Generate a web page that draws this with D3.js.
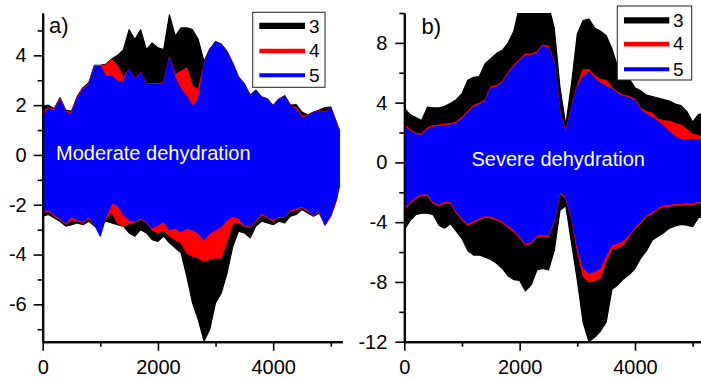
<!DOCTYPE html>
<html><head><meta charset="utf-8">
<script src="https://cdn.jsdelivr.net/npm/d3@7"></script>
<style>
html,body{margin:0;padding:0;background:#fff;}
svg{display:block;font-family:"Liberation Sans",Arial,sans-serif;}
</style></head>
<body>
<svg id="chart" width="701" height="379"></svg>
<script>
// ---------- data ----------
const seriesNames = ["3", "4", "5"];
const seriesColors = ["#000000", "#ff0000", "#0000ff"];
const xTickLabels = [0, 2000, 4000];
const yTickLabelsA = [-6, -4, -2, 0, 2, 4];
const yTickLabelsB = [-12, -8, -4, 0, 4, 8];
const panelTitles = ["a)", "b)"];
const panelNotes = ["Moderate dehydration", "Severe dehydration"];

// sample positions (x) of the envelope readings
const xA = [0,100,200,300,400,500,600,700,800,900,1000,1100,1200,1300,1400,1500,1600,1700,1800,1900,2000,2100,2200,2300,2400,2500,2600,2700,2800,2900,3000,3100,3200,3300,3400,3500,3600,3700,3800,3900,4000,4100,4200,4300,4400,4500,4600,4700,4800,4900,5000,5100,5150];
// Panel a: upper / lower envelopes
const a3Upper = [1.95,2.0,1.85,2.3,1.8,1.75,2.35,2.7,2.9,3.6,3.6,3.65,3.85,4.0,4.22,5.03,4.63,5.03,4.23,4.5,4.3,4.23,5.63,4.77,5.1,5.1,5.03,4.63,3.75,4.25,4.55,4.45,4.15,3.68,3.12,2.86,2.4,2.6,2.33,2.25,1.98,2.25,2.38,2.0,2.02,1.72,1.6,1.72,1.8,1.9,1.92,1.3,1.0];
const a4Upper = [1.7,1.9,1.8,2.25,1.75,1.7,2.3,2.65,2.85,3.6,3.58,3.62,3.83,3.56,3.1,3.43,3.05,3.3,2.85,2.85,2.85,2.92,3.92,3.22,3.36,3.49,2.76,2.62,3.6,4.23,4.52,4.43,4.1,3.63,3.09,2.82,2.35,2.55,2.29,2.22,1.95,2.22,2.35,1.95,1.9,1.55,1.58,1.7,1.77,1.72,1.9,1.25,1.0];
const a5Upper = [1.55,1.85,1.75,2.2,1.7,1.65,2.25,2.6,2.8,3.55,3.55,3.15,3.15,2.95,2.95,3.43,3.02,3.29,2.82,2.82,2.82,2.89,3.89,3.09,2.62,2.35,1.95,2.22,3.56,4.23,4.52,4.43,4.1,3.63,3.09,2.82,2.35,2.55,2.29,2.22,1.95,2.22,2.35,1.95,1.82,1.48,1.55,1.69,1.75,1.69,1.89,1.22,0.95];
const a3Lower = [-2.46,-2.39,-2.53,-2.66,-2.86,-2.8,-2.73,-2.8,-2.66,-2.86,-2.73,-2.66,-2.73,-2.8,-2.86,-3.13,-3.26,-3.0,-3.13,-3.4,-3.47,-3.26,-3.53,-3.73,-3.93,-4.87,-5.94,-6.61,-7.48,-7.0,-5.94,-5.54,-4.74,-3.67,-3.06,-3.13,-3.33,-2.86,-2.66,-2.73,-2.8,-2.66,-2.73,-2.46,-2.39,-2.19,-2.33,-2.46,-2.33,-2.8,-2.46,-1.79,-1.2];
const a4Lower = [-2.33,-2.25,-2.45,-2.58,-2.78,-2.6,-2.65,-2.72,-2.52,-2.83,-2.7,-2.55,-2.3,-2.73,-2.86,-2.75,-2.7,-2.58,-2.7,-3.0,-3.13,-3.0,-3.26,-3.4,-3.53,-3.93,-4.07,-4.13,-4.27,-4.2,-4.13,-4.13,-3.47,-2.73,-2.7,-2.85,-2.9,-2.65,-2.4,-2.5,-2.65,-2.5,-2.5,-2.25,-2.2,-2.1,-2.25,-2.42,-2.25,-2.82,-2.42,-1.75,-1.2];
const a5Lower = [-2.26,-2.19,-2.39,-2.53,-2.73,-2.46,-2.6,-2.66,-2.46,-2.8,-3.26,-2.46,-1.93,-2.0,-2.39,-2.6,-2.66,-2.53,-2.66,-2.93,-2.8,-2.66,-3.0,-2.93,-3.06,-2.93,-3.0,-3.13,-3.4,-3.13,-3.0,-2.86,-2.6,-2.46,-2.53,-2.8,-2.86,-2.6,-2.33,-2.46,-2.6,-2.46,-2.46,-2.19,-2.13,-2.06,-2.19,-2.39,-2.19,-2.8,-2.39,-1.72,-1.15];

const xB = [0,100,200,300,400,500,600,700,800,900,1000,1100,1200,1300,1400,1500,1600,1700,1800,1900,2000,2100,2200,2300,2400,2500,2600,2700,2800,2900,3000,3100,3200,3300,3400,3500,3600,3700,3800,3900,4000,4100,4200,4300,4400,4500,4600,4700,4800,4900,5000,5100,5200];
// Panel b: upper / lower envelopes
const b3Upper = [3.64,3.2,3.0,2.8,3.7,3.65,3.65,3.75,3.95,4.2,4.6,5.5,5.7,5.75,6.6,6.95,7.3,7.5,8.0,8.8,10.5,10.5,10.5,10.5,10.5,10.5,9.0,5.0,2.5,5.3,8.6,9.5,9.6,9.0,8.8,8.5,7.6,6.4,6.0,5.6,5.0,4.8,4.5,4.4,4.3,4.2,4.1,3.9,3.8,3.4,2.7,3.2,3.3];
const b4Upper = [2.5,2.2,1.95,1.9,2.3,2.45,2.5,2.55,2.6,2.7,3.0,3.4,3.8,3.95,4.2,5.05,5.15,5.4,6.0,6.5,6.87,7.25,7.25,7.4,7.85,7.75,6.7,3.4,2.05,3.7,5.1,6.2,6.2,5.8,5.55,5.5,5.0,4.7,4.5,4.4,4.2,3.6,3.4,3.3,2.9,2.8,2.75,2.6,2.5,2.2,1.9,1.8,1.6];
const b5Upper = [2.41,2.1,1.86,1.8,2.2,2.35,2.4,2.45,2.5,2.6,2.9,3.3,3.7,3.85,4.1,4.95,5.05,5.3,5.9,6.4,6.77,7.15,7.15,7.3,7.75,7.65,6.6,3.3,1.95,3.6,5.0,5.7,6.05,5.6,5.3,5.1,4.9,4.6,4.4,4.3,4.1,3.5,3.2,3.0,2.7,2.4,2.0,1.7,1.5,1.5,1.55,1.5,1.5];
const b3Lower = [-4.51,-3.9,-3.5,-3.4,-3.4,-3.5,-4.2,-4.4,-4.1,-4.6,-5.1,-5.9,-6.2,-6.2,-6.35,-6.5,-6.75,-7.1,-7.6,-7.85,-7.9,-8.6,-8.2,-7.2,-7.1,-7.2,-5.9,-3.2,-2.9,-5.4,-7.9,-10.7,-12.0,-11.7,-11.3,-10.7,-8.5,-8.2,-7.8,-7.5,-7.1,-6.4,-5.9,-5.2,-4.95,-4.7,-4.4,-4.25,-4.15,-4.2,-4.3,-3.7,-3.6];
const b4Lower = [-3.18,-2.72,-2.4,-2.22,-2.22,-2.72,-2.92,-2.72,-2.72,-3.37,-3.82,-4.18,-4.02,-3.82,-3.67,-3.72,-3.85,-4.02,-4.32,-4.62,-5.02,-5.52,-5.42,-4.97,-4.92,-4.97,-3.92,-2.02,-2.42,-3.72,-5.9,-7.6,-8.0,-7.9,-7.7,-6.6,-5.8,-5.7,-5.5,-4.92,-4.42,-4.07,-3.62,-3.42,-3.12,-2.97,-2.92,-2.87,-2.85,-2.82,-2.85,-2.72,-2.72];
const b5Lower = [-3.06,-2.6,-2.28,-2.1,-2.1,-2.6,-2.8,-2.6,-2.6,-3.25,-3.7,-4.06,-3.9,-3.7,-3.55,-3.6,-3.73,-3.9,-4.2,-4.5,-4.9,-5.4,-5.3,-4.85,-4.8,-4.85,-3.8,-1.9,-2.3,-3.6,-5.6,-7.0,-7.4,-7.3,-7.05,-6.2,-5.5,-5.4,-5.2,-4.8,-4.3,-3.95,-3.5,-3.3,-3.0,-2.85,-2.8,-2.75,-2.73,-2.7,-2.73,-2.6,-2.6];

// ---------- drawing ----------
const svg = d3.select("#chart");
const FONT = "Liberation Sans, Arial, sans-serif";

const panels = [
  {
    id: "a", xs: xA,
    upper: [a3Upper, a4Upper, a5Upper], lower: [a3Lower, a4Lower, a5Lower],
    left: 42.7, right: 342.3, top: 13, bottom: 341.7,
    yDomain: [-7.5, 5.7], yMajor: yTickLabelsA, yMinor: [-7, -5, -3, -1, 1, 3, 5],
    labelPad: 7, title: panelTitles[0], titleX: 49, titleY: 33,
    note: panelNotes[0], noteX: 56, noteY: 160,
    legend: {x0: 252.7, y0: 12.3, x1: 325, y1: 87.3, lx0: 259.3, lx1: 305, ly: [25.8, 51, 75.3], tx: 309, ty: [33.3, 57.3, 81.7]}
  },
  {
    id: "b", xs: xB,
    upper: [b3Upper, b4Upper, b5Upper], lower: [b3Lower, b4Lower, b5Lower],
    left: 404.3, right: 704.2, top: 13, bottom: 341.7,
    yDomain: [-12, 10], yMajor: yTickLabelsB, yMinor: [-10, -6, -2, 2, 6, 10],
    labelPad: 8, title: panelTitles[1], titleX: 421.5, titleY: 34,
    note: panelNotes[1], noteX: 471.5, noteY: 166,
    legend: {x0: 617.3, y0: 6, x1: 691.7, y1: 80, lx0: 624, lx1: 669.3, ly: [20.3, 44.2, 69.3], tx: 673, ty: [27.3, 50.3, 76]}
  }
];
const lineWidths = [6.3, 4.7, 4];

panels.forEach(p => {
  const x = d3.scaleLinear().domain([0, 5200]).range([p.left, p.right]);
  const y = d3.scaleLinear().domain(p.yDomain).range([p.bottom, p.top]);

  svg.append("clipPath").attr("id", "clip-" + p.id)
    .append("rect").attr("x", p.left).attr("y", p.top)
    .attr("width", p.right - p.left).attr("height", p.bottom - p.top);

  const g = svg.append("g").attr("clip-path", "url(#clip-" + p.id + ")");
  seriesNames.forEach((name, i) => {
    const rows = p.xs.map((xv, k) => ({x: xv, hi: p.upper[i][k], lo: p.lower[i][k]}));
    const area = d3.area().x(d => x(d.x)).y0(d => y(d.lo)).y1(d => y(d.hi)).curve(d3.curveLinear);
    g.append("path").datum(rows).attr("d", area)
      .attr("fill", seriesColors[i]).attr("stroke", seriesColors[i])
      .attr("stroke-width", 1.2).attr("stroke-linejoin", "round");
  });

  // axes
  const axStyle = sel => {
    sel.selectAll(".domain").attr("stroke", "#000").attr("stroke-width", 2);
    sel.selectAll(".tick line").attr("stroke", "#000").attr("stroke-width", 1.6);
    sel.selectAll("text").attr("font-family", FONT).attr("font-size", 20).attr("fill", "#000");
  };
  const yMin = svg.append("g").attr("transform", `translate(${p.left},0)`)
    .call(d3.axisLeft(y).tickValues(p.yMinor).tickSize(5).tickSizeOuter(0).tickFormat(""));
  axStyle(yMin);
  const yMaj = svg.append("g").attr("transform", `translate(${p.left},0)`)
    .call(d3.axisLeft(y).tickValues(p.yMajor).tickSize(9).tickPadding(p.labelPad).tickSizeOuter(0).tickFormat(d3.format("d")));
  axStyle(yMaj);
  yMaj.selectAll("text").text(d => String(d).replace("\u2212", "-"));

  const xMin = svg.append("g").attr("transform", `translate(0,${p.bottom})`)
    .call(d3.axisBottom(x).tickValues([1000, 3000, 5000]).tickSize(5).tickSizeOuter(0).tickFormat(""));
  axStyle(xMin);
  const xMaj = svg.append("g").attr("transform", `translate(0,${p.bottom})`)
    .call(d3.axisBottom(x).tickValues(xTickLabels).tickSize(9).tickPadding(9).tickSizeOuter(0).tickFormat(d3.format("d")));
  axStyle(xMaj);

  // panel label & note
  svg.append("text").attr("x", p.titleX).attr("y", p.titleY)
    .attr("font-family", FONT).attr("font-size", 22).attr("fill", "#000").text(p.title);
  svg.append("text").attr("x", p.noteX).attr("y", p.noteY)
    .attr("font-family", FONT).attr("font-size", 20).attr("fill", "#fff").text(p.note);

  // legend
  const L = p.legend;
  svg.append("rect").attr("x", L.x0).attr("y", L.y0).attr("width", L.x1 - L.x0).attr("height", L.y1 - L.y0)
    .attr("fill", "#fff").attr("stroke", "#222").attr("stroke-width", 1);
  seriesNames.forEach((name, i) => {
    svg.append("line").attr("x1", L.lx0).attr("x2", L.lx1).attr("y1", L.ly[i]).attr("y2", L.ly[i])
      .attr("stroke", seriesColors[i]).attr("stroke-width", lineWidths[i]);
    svg.append("text").attr("x", L.tx).attr("y", L.ty[i])
      .attr("font-family", FONT).attr("font-size", 19).attr("fill", "#000").text(name);
  });
});
</script>
</body></html>
